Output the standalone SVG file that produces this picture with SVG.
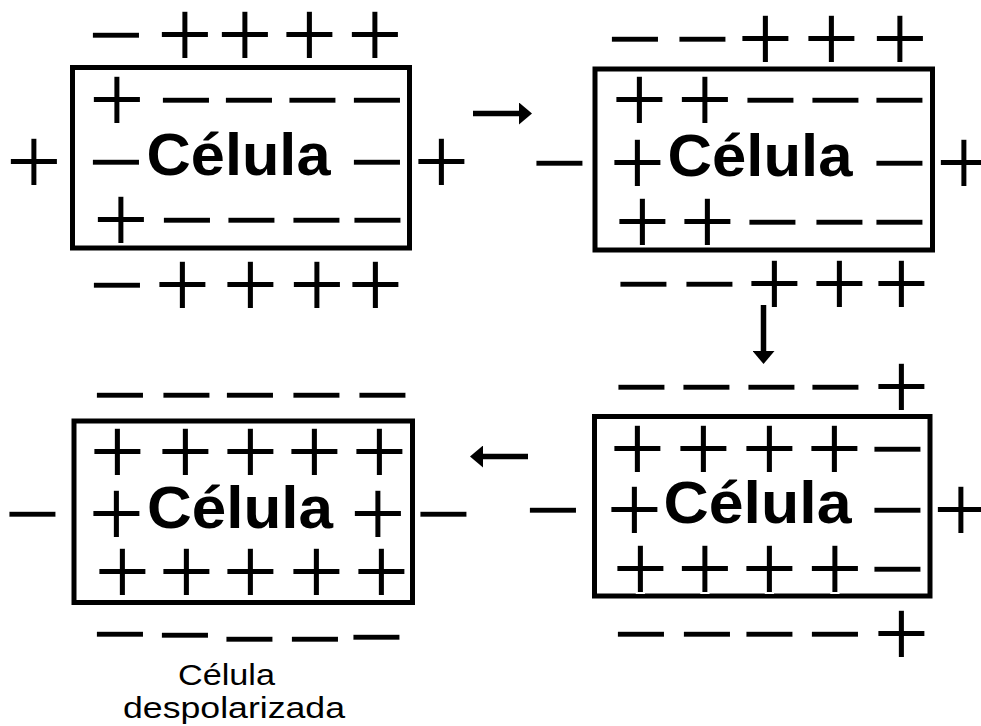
<svg xmlns="http://www.w3.org/2000/svg" width="981" height="726" viewBox="0 0 981 726">
<style>
.bg{fill:#fff}
.box{fill:none;stroke:#000;stroke-width:5}
.s{font-family:"Liberation Sans",Arial,sans-serif;font-size:99px;text-anchor:middle;fill:#000;stroke:#fff;stroke-width:2px}
.t{font-family:"Liberation Sans",Arial,sans-serif;font-size:60px;font-weight:bold;text-anchor:middle;fill:#000}
.c{font-family:"Liberation Sans",Arial,sans-serif;font-size:29px;text-anchor:middle;fill:#000}
.arr{stroke:#000;stroke-width:5.5;fill:none;marker-end:url(#ah)}
</style>
<defs>
<marker id="ah" markerUnits="userSpaceOnUse" viewBox="0 0 13 22" markerWidth="13" markerHeight="22" refX="1" refY="11" orient="auto">
<path d="M0,0 L13,11 L0,22 z" fill="#000"/>
</marker>
</defs>
<rect class="bg" x="0" y="0" width="981" height="726"/>

<g id="celula1">
<rect class="box" x="72.5" y="67.5" width="337" height="180.5"/>
<text class="s" x="116 185 245 309.5 375" y="68">−++++</text>
<text class="s" x="117 186 249 312.5 377" y="133">+−−−−</text>
<text class="s" x="34 116 377 441.5" y="195">+−−+</text>
<text class="t" x="238.5" y="175" textLength="184" lengthAdjust="spacingAndGlyphs">Célula</text>
<text class="s" x="121 187 251.5 316.5 377.5" y="253">+−−−−</text>
<text class="s" x="117 182.5 250.5 317 375.5" y="318">−++++</text>
</g>

<g id="celula2">
<rect class="box" x="595" y="69" width="337.5" height="181"/>
<text class="s" x="635 702.5 765.5 831.5 900" y="72">−−+++</text>
<text class="s" x="639.5 705 770.5 835.5 899.5" y="133">++−−−</text>
<text class="s" x="559.5 637.5 899.5 964" y="196">−+−+</text>
<text class="t" x="760" y="176" textLength="185" lengthAdjust="spacingAndGlyphs">Célula</text>
<text class="s" x="642.5 707.5 772.5 839.5 899.5" y="255">++−−−</text>
<text class="s" x="643.5 709.5 774.5 839.5 901.5" y="317">−−+++</text>
</g>

<g id="celula3">
<rect class="box" x="594.5" y="416.5" width="335.5" height="179.5"/>
<text class="s" x="641.5 706.5 771.5 835.5 901.5" y="420">−−−−+</text>
<text class="s" x="637.5 703.5 769.5 834.5 897.5" y="482">++++−</text>
<text class="s" x="553 634.5 897.5 961" y="543">−+−+</text>
<text class="t" x="757.5" y="523" textLength="188" lengthAdjust="spacingAndGlyphs">Célula</text>
<text class="s" x="640.5 705 769.5 835 897.5" y="602">++++−</text>
<text class="s" x="641 707 769.5 835 901.5" y="667">−−−−+</text>
</g>

<g id="celula4">
<rect class="box" x="74" y="421" width="338.5" height="181.5"/>
<text class="s" x="120 186.5 250 316.5 382.5" y="428">−−−−−</text>
<text class="s" x="117.5 185.5 250.5 314.5 379.5" y="485">+++++</text>
<text class="s" x="32.5 116.5 378 443.5" y="547">−++−</text>
<text class="t" x="240" y="528" textLength="186" lengthAdjust="spacingAndGlyphs">Célula</text>
<text class="s" x="122.5 186.5 250.5 316.5 381.5" y="605">+++++</text>
<text class="s" x="120 185 249.5 315 376.5" y="667 668 672 672 670">−−−−−</text>
</g>

<g id="legenda">
<text class="c" x="226.5" y="685" textLength="97" lengthAdjust="spacingAndGlyphs">Célula</text>
<text class="c" x="234" y="718" textLength="222" lengthAdjust="spacingAndGlyphs">despolarizada</text>
</g>

<g id="conectores">
<line class="arr" x1="473" y1="113.5" x2="520" y2="113.5"/>
<line class="arr" x1="763.5" y1="305" x2="763.5" y2="352"/>
<line class="arr" x1="528" y1="456.5" x2="482" y2="456.5"/>
</g>
</svg>
